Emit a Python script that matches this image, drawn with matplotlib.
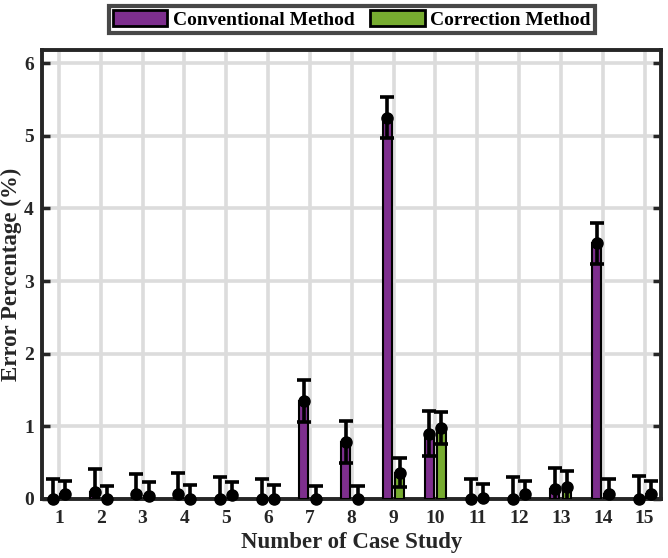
import numpy as np
import matplotlib
matplotlib.use("Agg")
import matplotlib.pyplot as plt

cases = list(range(1, 16))
conv_vals = [0.00, 0.10, 0.06, 0.065, 0.00, 0.00, 1.35, 0.78, 5.25, 0.90, 0.00, 0.00, 0.14, 3.52, 0.00]
conv_err = [0.28, 0.31, 0.28, 0.29, 0.30, 0.28, 0.29, 0.29, 0.28, 0.31, 0.28, 0.30, 0.29, 0.28, 0.32]
corr_vals = [0.07, 0.00, 0.04, 0.00, 0.055, 0.00, 0.00, 0.00, 0.36, 0.97, 0.01, 0.06, 0.17, 0.065, 0.06]
corr_err = [0.17, 0.18, 0.19, 0.19, 0.18, 0.19, 0.18, 0.18, 0.20, 0.22, 0.20, 0.19, 0.21, 0.215, 0.19]

PURPLE = "#7E2F8E"
GREEN = "#77AC30"

plt.rcParams["font.family"] = ["Liberation Serif", "DejaVu Serif"]
plt.rcParams["font.weight"] = "bold"

fig = plt.figure(figsize=(6.68, 5.58), dpi=100)
ax = fig.add_axes([0.063, 0.106, 0.927, 0.804])

x = np.array(cases, dtype=float)
off = 0.145
w = 0.21

ax.bar(x - off, conv_vals, width=w, color=PURPLE, edgecolor="black", linewidth=1.5,
       label="Conventional Method", zorder=3)
ax.bar(x + off, corr_vals, width=w, color=GREEN, edgecolor="black", linewidth=1.5,
       label="Correction Method", zorder=3)

# error bars clipped at the axes, markers drawn over the spine
for xs, vals, errs in [(x - off, conv_vals, conv_err), (x + off, corr_vals, corr_err)]:
    ax.errorbar(xs, vals, yerr=errs, fmt="none", ecolor="black",
                elinewidth=2.6, capsize=5, capthick=2.6, zorder=4)
    ax.plot(xs, vals, "o", color="black", markersize=8, zorder=5, clip_on=False)

ax.set_xlim(0.6, 15.4)
ax.set_ylim(0, 6.18)
ax.set_xticks(cases)
ax.set_yticks(range(0, 7))
ax.grid(True, color="#dcdcdc", linewidth=2.6, zorder=0)
ax.set_axisbelow(True)

for sp in ax.spines.values():
    sp.set_linewidth(2.8)
    sp.set_color("#262626")

ax.tick_params(axis="y", direction="in", length=6, width=2.5, right=True,
               labelsize=14, pad=6, colors="#262626")
ax.tick_params(axis="x", direction="in", length=0, labelsize=14, pad=8, colors="#262626")
for lab in ax.get_xticklabels() + ax.get_yticklabels():
    lab.set_fontweight("bold")

ax.set_xlabel("Number of Case Study", fontsize=16.5, fontweight="bold", color="#262626",
              va="center")
ax.set_ylabel("Error Percentage (%)", fontsize=16.5, fontweight="bold", color="#262626",
              va="center")
ax.xaxis.set_label_coords(0.5, -0.098)
ax.yaxis.set_label_coords(-0.05, 0.5)

leg = ax.legend(loc="lower center", bbox_to_anchor=(0.5, 1.0), ncol=2, frameon=True,
                fancybox=False, edgecolor="#1a1a1a", fontsize=14,
                handlelength=2.8, handleheight=0.85, columnspacing=0.8,
                handletextpad=0.3, borderpad=0.2, borderaxespad=0.9)
leg.get_frame().set_linewidth(3)
for t in leg.get_texts():
    t.set_fontweight("bold")
for h in leg.legend_handles:
    h.set_linewidth(2)

fig.savefig("out.png", dpi=100)
